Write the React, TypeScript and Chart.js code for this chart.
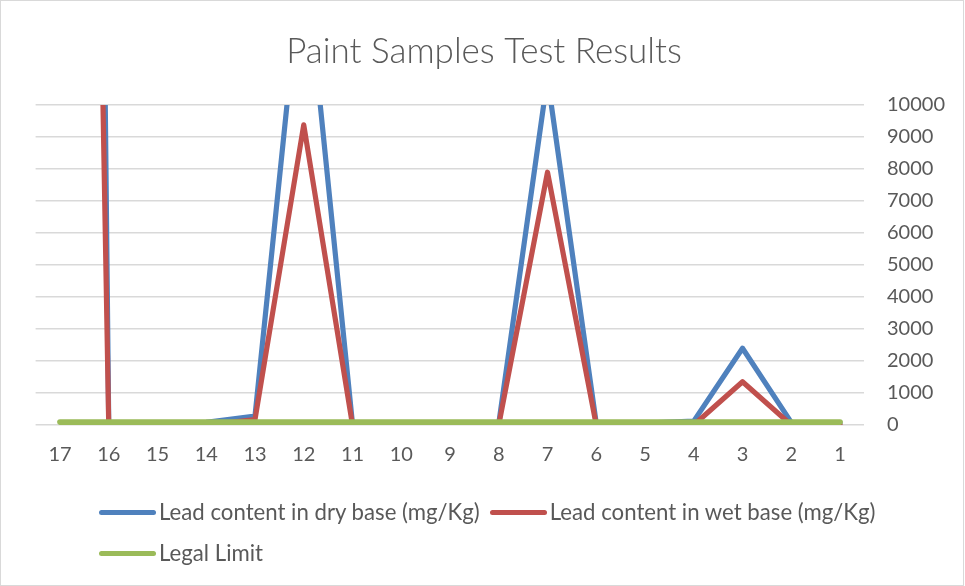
import React, { useEffect, useRef } from 'react';
import { Chart, registerables } from 'chart.js';

Chart.register(...registerables);

const categories = ['17', '16', '15', '14', '13', '12', '11', '10', '9', '8', '7', '6', '5', '4', '3', '2', '1'];
const dryBase = [140000, 60, 70, 80, 280, 15100, 40, 60, 50, 40, 10850, 50, 60, 120, 2400, 80, 60];
const wetBase = [85000, 0, 0, 0, 170, 9380, 0, 20, 15, 0, 7900, 0, 0, 0, 1350, 0, 0];
const legalLimit = [90, 90, 90, 90, 90, 90, 90, 90, 90, 90, 90, 90, 90, 90, 90, 90, 90];
const seriesNames = ['Lead content in dry base (mg/Kg)', 'Lead content in wet base (mg/Kg)', 'Legal Limit'];
const seriesColors = ['#4F81BD', '#C0504D', '#9BBB59'];
const seriesWidths = [5.2, 5.2, 5.8];
const yMin = 0;
const yMax = 10000;
const yStep = 1000;

const FONT = "Lato, 'Liberation Sans', sans-serif";
const TEXT = '#595959';

function LegendItem({ name, color }: { name: string; color: string }) {
  return (
    <div style={{ display: 'flex', alignItems: 'center', marginRight: 10 }}>
      <span style={{ display: 'inline-block', width: 57, height: 5, borderRadius: 3, background: color, marginRight: 3 }} />
      <span>{name}</span>
    </div>
  );
}

export default function App() {
  const ref = useRef<HTMLCanvasElement | null>(null);
  useEffect(() => {
    if (!ref.current) return;
    const series = [dryBase, wetBase, legalLimit];
    const chart = new Chart(ref.current, {
      type: 'line',
      data: {
        labels: categories,
        datasets: series.map((d, i) => ({
          label: seriesNames[i],
          data: d,
          xAxisID: 'x',
          yAxisID: 'y',
          borderColor: seriesColors[i],
          backgroundColor: seriesColors[i],
          borderWidth: seriesWidths[i],
          pointRadius: 0,
          pointHoverRadius: 0,
          borderJoinStyle: 'round' as const,
          borderCapStyle: 'round' as const,
          tension: 0,
          order: 2 - i,
        })),
      },
      options: {
        animation: false,
        responsive: false,
        maintainAspectRatio: false,
        layout: { padding: { left: 3, right: 0, top: 0, bottom: 100 } },
        plugins: {
          legend: { display: false },
          tooltip: { enabled: false },
          title: {
            display: true,
            text: 'Paint Samples Test Results',
            color: TEXT,
            font: { family: FONT, size: 35, weight: '300' as any },
            padding: { top: 31, bottom: 32 },
          },
        },
        scales: {
          x: {
            offset: true,
            grid: { display: false, drawTicks: false, offset: true },
            border: { display: false },
            ticks: {
              color: TEXT,
              font: { family: FONT, size: 20 },
              padding: 18,
              autoSkip: false,
              maxRotation: 0,
            },
            afterFit: (s: any) => { s.height = 61; },
          },
          y: {
            position: 'right',
            min: yMin,
            max: yMax,
            grid: { color: '#d9d9d9', lineWidth: 1.5, drawTicks: false },
            border: { display: false },
            ticks: {
              stepSize: yStep,
              color: TEXT,
              font: { family: FONT, size: 20 },
              crossAlign: 'near',
              padding: 22.6,
              callback: (v: any) => String(v),
            },
            afterFit: (s: any) => { s.width = 100.6; },
          },
          spacer: {
            type: 'linear',
            position: 'left',
            display: true,
            grid: { display: false, drawTicks: false },
            border: { display: false },
            ticks: { display: false },
            afterFit: (s: any) => { s.width = 32.6; },
          },
        },
      },
    });
    return () => chart.destroy();
  }, []);

  return (
    <div style={{ position: 'absolute', left: 0, top: 0, width: 965, height: 586, background: '#fff', fontFamily: FONT, color: TEXT, fontSize: 22.2 }}>
      <canvas ref={ref} width={965} height={586} style={{ position: 'absolute', left: 0, top: 0, width: 965, height: 586 }} />
      <div style={{ position: 'absolute', left: 99, top: 497, lineHeight: '30px' }}>
        <div style={{ display: 'flex' }}>
          <LegendItem name={seriesNames[0]} color={seriesColors[0]} />
          <LegendItem name={seriesNames[1]} color={seriesColors[1]} />
        </div>
        <div style={{ display: 'flex', marginTop: 11 }}>
          <LegendItem name={seriesNames[2]} color={seriesColors[2]} />
        </div>
      </div>
      <div style={{ position: 'absolute', left: 0, top: 0, width: 964, height: 586, boxSizing: 'border-box', border: '1px solid #d9d9d9', pointerEvents: 'none' }} />
    </div>
  );
}
